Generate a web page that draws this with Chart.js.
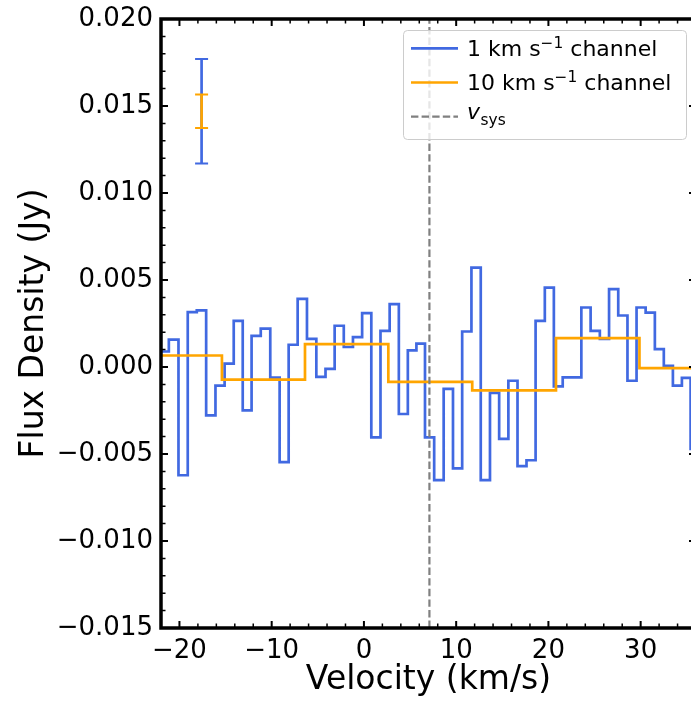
<!DOCTYPE html>
<html><head><meta charset="utf-8">
<script src="https://cdn.jsdelivr.net/npm/chart.js@4.4.1/dist/chart.umd.min.js"></script>
<style>html,body{margin:0;padding:0;background:#fff;overflow:hidden;} #wrap{width:691px;height:702px;overflow:hidden;position:relative;}</style>
</head><body><div id="wrap"><canvas id="c" width="700" height="702"></canvas></div>
<script>
// ---- data ----
const blueVelocity = [-22.66, -21.67, -20.63, -19.58, -18.62, -17.62, -16.59, -15.60, -14.61, -13.62, -12.66, -11.70, -10.67, -9.64, -8.64, -7.68, -6.69, -5.66, -4.66, -3.67, -2.68, -1.69, -0.69, 0.30, 1.30, 2.29, 3.29, 4.28, 5.24, 6.14, 7.10, 8.13, 9.16, 10.15, 11.15, 12.16, 13.17, 14.16, 15.16, 16.16, 17.14, 18.11, 19.11, 20.11, 21.07, 22.03, 23.06, 24.08, 25.07, 26.08, 27.07, 28.07, 29.07, 30.04, 31.04, 32.04, 32.98, 34.01, 34.93, 35.90, 36.90];
const blueFlux = [0.00089, 0.00089, 0.00157, -0.00622, 0.00315, 0.00325, -0.00278, -0.00107, 0.00019, 0.00265, -0.00249, 0.00179, 0.00220, -0.00061, -0.00547, 0.00128, 0.00392, 0.00162, -0.00057, -0.00011, 0.00237, 0.00115, 0.00172, 0.00310, -0.00404, 0.00208, 0.00361, -0.00270, 0.00095, 0.00134, -0.00404, -0.00650, -0.00126, -0.00583, 0.00204, 0.00571, -0.00650, -0.00149, -0.00413, -0.00079, -0.00570, -0.00536, 0.00265, 0.00456, -0.00111, -0.00060, -0.00060, 0.00342, 0.00208, 0.00161, 0.00447, 0.00296, -0.00079, 0.00342, 0.00313, 0.00103, 0.00007, -0.00107, -0.00063, -0.00470, -0.00470];
const orangeVelocity = [-28.9, -19.9, -10.89, -1.89, 7.18, 16.30, 25.34, 34.40, 43.50];
const orangeFlux = [0.00066, 0.00066, -0.00073, 0.00132, -0.00086, -0.00134, 0.00166, -0.00006, -0.00006];
const vsysVelocity = 7.1;
const errBarVelocity = -17.6;
const errBarCenter = 0.0147;
const blueErr = 0.0030;
const orangeErr = 0.00096;
const xTickValues = [-20, -10, 0, 10, 20, 30];
const yTickValues = [-0.015, -0.010, -0.005, 0.000, 0.005, 0.010, 0.015, 0.020];
const xMinorStep = 2;
const yMinorStep = 0.001;
const xLimits = [-22, 36];
const yLimits = [-0.015, 0.020];
const seriesLabels = ['1 km s\u207B\u00B9 channel', '10 km s\u207B\u00B9 channel', 'v_sys'];

const BLUE = '#4169E1', ORANGE = '#FFA500', GRAY = '#808080';
const FONT = "'DejaVu Sans', sans-serif";
Chart.defaults.font.family = FONT;
Chart.defaults.color = '#000';

function minus(s){ return s.replace('-', '\u2212'); }

const ticksAndFrame = {
  id: 'ticksAndFrame',
  afterDatasetsDraw(chart) {
    const {ctx, scales:{x, y}} = chart;
    const px = x.getPixelForValue(errBarVelocity);
    const bars = [[blueErr, BLUE], [orangeErr, ORANGE]];
    ctx.save();
    for (const [e, col] of bars) {
      const y1 = y.getPixelForValue(errBarCenter + e), y2 = y.getPixelForValue(errBarCenter - e);
      ctx.strokeStyle = col; ctx.lineWidth = 2.7;
      ctx.beginPath(); ctx.moveTo(px, y1); ctx.lineTo(px, y2); ctx.stroke();
      ctx.lineWidth = 2;
      ctx.beginPath(); ctx.moveTo(px-6.5, y1); ctx.lineTo(px+6.5, y1); ctx.moveTo(px-6.5, y2); ctx.lineTo(px+6.5, y2); ctx.stroke();
    }
    ctx.restore();
  },
  afterDraw(chart) {
    const {ctx, chartArea:a, scales:{x, y}} = chart;
    ctx.save();
    ctx.strokeStyle = '#000';
    // inward ticks on all four sides
    const maj = 7, mnr = 4.5;
    ctx.lineWidth = 2;
    ctx.beginPath();
    for (const v of xTickValues) { const p = x.getPixelForValue(v); ctx.moveTo(p, a.bottom); ctx.lineTo(p, a.bottom-maj); ctx.moveTo(p, a.top); ctx.lineTo(p, a.top+maj); }
    for (const v of yTickValues) { const p = y.getPixelForValue(v); ctx.moveTo(a.left, p); ctx.lineTo(a.left+maj, p); ctx.moveTo(a.right, p); ctx.lineTo(a.right-maj, p); }
    ctx.stroke();
    ctx.lineWidth = 1.5;
    ctx.beginPath();
    for (let v = Math.ceil(xLimits[0]/xMinorStep)*xMinorStep; v <= xLimits[1]; v += xMinorStep) {
      if (v % 10 === 0 || v <= xLimits[0] || v >= xLimits[1]) continue;
      const p = x.getPixelForValue(v); ctx.moveTo(p, a.bottom); ctx.lineTo(p, a.bottom-mnr); ctx.moveTo(p, a.top); ctx.lineTo(p, a.top+mnr);
    }
    for (let i = 1; i < Math.round((yLimits[1]-yLimits[0])/yMinorStep); i++) {
      if (i % 5 === 0) continue;
      const p = y.getPixelForValue(yLimits[0] + i*yMinorStep); ctx.moveTo(a.left, p); ctx.lineTo(a.left+mnr, p); ctx.moveTo(a.right, p); ctx.lineTo(a.right-mnr, p);
    }
    ctx.stroke();
    // spines
    ctx.lineWidth = 3.5;
    ctx.strokeRect(a.left, a.top, a.right - a.left, a.bottom - a.top);
    // legend
    const bw = 283, bh = 109;
    const bx = a.right - 10 - bw, by = a.top + 11;
    ctx.beginPath();
    ctx.roundRect(bx + 0.5, by + 0.5, bw, bh, 4);
    ctx.fillStyle = 'rgba(255,255,255,0.8)'; ctx.fill();
    ctx.strokeStyle = '#cccccc'; ctx.lineWidth = 1; ctx.stroke();
    const hx1 = bx + 8, hx2 = bx + 55, tx = bx + 64;
    const rows = [by + 18.3, by + 52.5, by + 86.7];
    const cols = [BLUE, ORANGE, GRAY];
    ctx.textBaseline = 'alphabetic'; ctx.textAlign = 'left'; ctx.fillStyle = '#000';
    for (let i = 0; i < 3; i++) {
      ctx.strokeStyle = cols[i]; ctx.lineWidth = i < 2 ? 2.7 : 2.2;
      ctx.setLineDash(i === 2 ? [7.4, 3.2] : []);
      ctx.beginPath(); ctx.moveTo(hx1, rows[i]); ctx.lineTo(hx2, rows[i]); ctx.stroke();
    }
    ctx.setLineDash([]);
    const pre = ['1 km s', '10 km s'];
    for (let i = 0; i < 2; i++) {
      const base = rows[i] + 7.4;
      ctx.font = `22px ${FONT}`;
      let cx = tx;
      ctx.fillText(pre[i], cx, base); cx += ctx.measureText(pre[i]).width;
      ctx.font = `15.4px ${FONT}`;
      ctx.fillText('\u22121', cx, base - 7.5); cx += ctx.measureText('\u22121').width;
      ctx.font = `22px ${FONT}`;
      ctx.fillText(' channel', cx, base);
    }
    const b3 = rows[2] + 2.5;
    ctx.font = `italic 22px ${FONT}`;
    ctx.fillText('v', tx, b3);
    const vw = ctx.measureText('v').width;
    ctx.font = `15.4px ${FONT}`;
    ctx.fillText('sys', tx + vw + 0.5, b3 + 5.3);
    ctx.restore();
  }
};

const toPts = (xs, ys) => xs.map((v, i) => ({x: v, y: ys[i]}));

new Chart(document.getElementById('c'), {
  type: 'line',
  data: {
    datasets: [
      {label: seriesLabels[2], data: [{x: vsysVelocity, y: yLimits[0]}, {x: vsysVelocity, y: yLimits[1]}], borderColor: GRAY, borderWidth: 2.2, borderDash: [7.4, 3.2], pointRadius: 0, order: 1},
      {label: seriesLabels[1], data: toPts(orangeVelocity, orangeFlux), borderColor: ORANGE, borderWidth: 2.7, stepped: 'middle', pointRadius: 0, order: 2},
      {label: seriesLabels[0], data: toPts(blueVelocity, blueFlux), borderColor: BLUE, borderWidth: 2.7, stepped: 'middle', pointRadius: 0, order: 3}
    ]
  },
  options: {
    responsive: false, animation: false,
    layout: {padding: {left: 0, right: 4, top: 19, bottom: 0}},
    plugins: {legend: {display: false}, tooltip: {enabled: false}},
    elements: {line: {fill: false, tension: 0}},
    scales: {
      x: {
        type: 'linear', min: xLimits[0], max: xLimits[1],
        grid: {display: false, drawTicks: false}, border: {display: false},
        afterBuildTicks: s => { s.ticks = xTickValues.map(v => ({value: v})); },
        afterFit: s => { s.height = 74; },
        ticks: {font: {size: 26}, color: '#000', padding: 8, maxRotation: 0, autoSkip: false,
          callback: v => minus(String(v))},
        title: {display: true, text: 'Velocity (km/s)', font: {size: 33}, color: '#000', padding: {top: 0, bottom: 2}}
      },
      y: {
        type: 'linear', min: yLimits[0], max: yLimits[1],
        grid: {display: false, drawTicks: false}, border: {display: false},
        afterBuildTicks: s => { s.ticks = yTickValues.map(v => ({value: v})); },
        afterFit: s => { s.width = 161; s.paddingTop = 15; s.paddingBottom = 15; },
        ticks: {font: {size: 26}, color: '#000', padding: 8, autoSkip: false,
          callback: v => minus(Number(v).toFixed(3))},
        title: {display: true, text: 'Flux Density (Jy)', font: {size: 33}, color: '#000', padding: {top: 15, bottom: 0}}
      }
    }
  },
  plugins: [ticksAndFrame]
});
</script>
</body></html>
